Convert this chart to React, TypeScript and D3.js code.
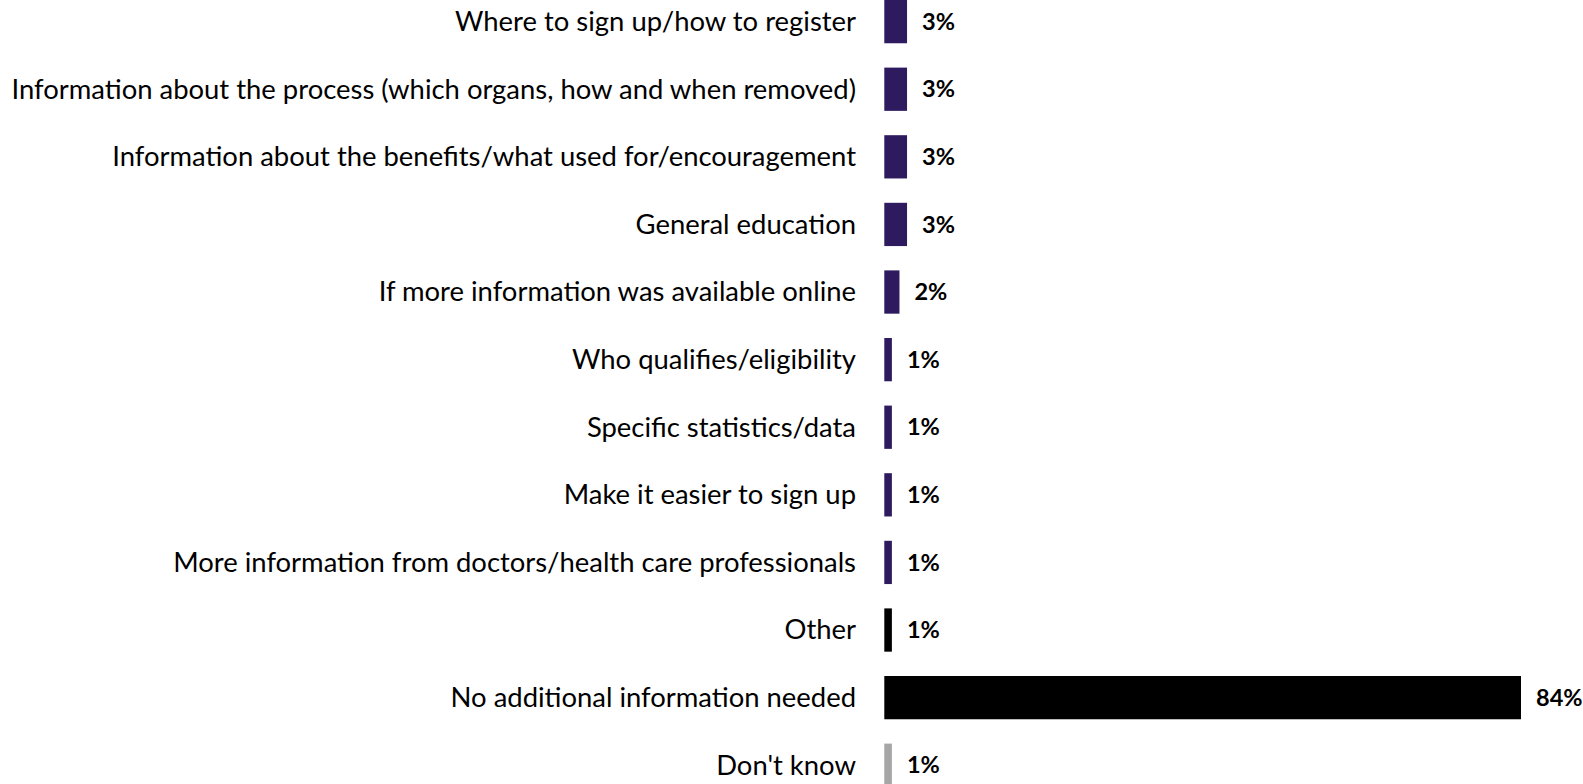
import React, { useMemo } from "react";
import * as d3 from "d3";

const categories: string[] = [
  "Where to sign up/how to register",
  "Information about the process (which organs, how and when removed)",
  "Information about the benefits/what used for/encouragement",
  "General education",
  "If more information was available online",
  "Who qualifies/eligibility",
  "Specific statistics/data",
  "Make it easier to sign up",
  "More information from doctors/health care professionals",
  "Other",
  "No additional information needed",
  "Don't know",
];

const values: number[] = [3, 3, 3, 3, 2, 1, 1, 1, 1, 1, 84, 1];

const colorGroups: string[] = [
  "topic", "topic", "topic", "topic", "topic", "topic", "topic", "topic", "topic",
  "other", "none", "dk",
];

const W = 1583;
const H = 784;
const FONT = "Lato, 'Open Sans', 'Noto Sans', sans-serif";

export default function App() {
  const step = 67.6;
  const y = d3
    .scaleBand<string>()
    .domain(categories)
    .range([-0.18 * step, -0.18 * step + categories.length * step])
    .paddingInner(0.36)
    .paddingOuter(0.18);

  const x = d3.scaleLinear().domain([0, 84]).range([884.3, 1521]);

  const color = d3
    .scaleOrdinal<string, string>()
    .domain(["topic", "other", "none", "dk"])
    .range(["#2E1A5E", "#000000", "#000000", "#A6A6A6"]);

  const labelSize = useMemo(() => {
    try {
      const c = document.createElement("canvas");
      const ctx = c.getContext("2d");
      if (!ctx) return 26;
      ctx.font = `100px ${FONT}`;
      const w = ctx.measureText(categories[1]).width;
      if (!w || !isFinite(w)) return 26;
      const s = (846 / w) * 100;
      return Math.max(20, Math.min(32, s));
    } catch (e) {
      return 26;
    }
  }, []);

  const valueSize = 23.5;

  return (
    <svg
      width={W}
      height={H}
      style={{ position: "absolute", left: 0, top: 0, background: "#fff" }}
    >
      {categories.map((c, i) => {
        const top = y(c)!;
        const bh = y.bandwidth();
        const cy = top + bh / 2;
        const x0 = x(0);
        const x1 = x(values[i]);
        return (
          <g key={c}>
            <text
              x={856}
              y={cy + labelSize * 0.345}
              textAnchor="end"
              fontFamily={FONT}
              fontSize={labelSize}
              fill="#000"
            >
              {c}
            </text>
            <rect
              x={x0}
              y={top}
              width={x1 - x0}
              height={bh}
              fill={color(colorGroups[i])}
            />
            <text
              x={x1 + 15}
              y={cy + valueSize * 0.35}
              fontFamily={FONT}
              fontWeight="bold"
              fontSize={valueSize}
              fill="#000"
            >
              {`${values[i]}%`}
            </text>
          </g>
        );
      })}
    </svg>
  );
}
